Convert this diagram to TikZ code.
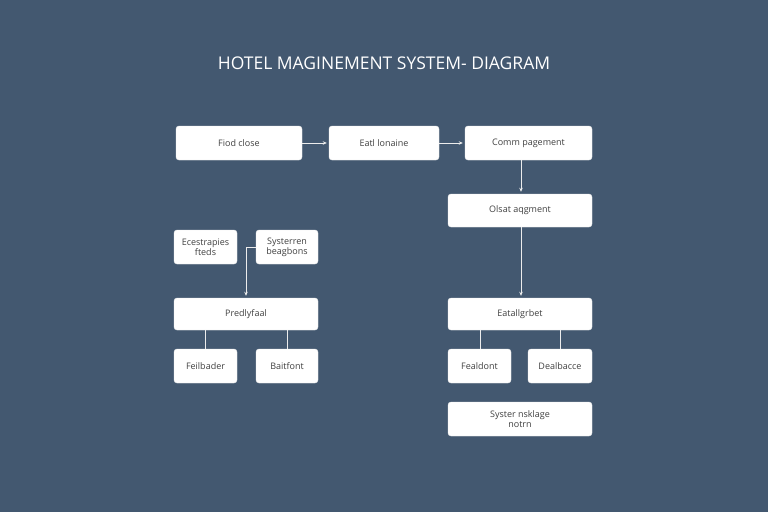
\documentclass[tikz,border=0pt]{standalone}
\usepackage{fontspec}
\setmainfont{Open Sans}
\usetikzlibrary{arrows.meta}
\definecolor{bg}{HTML}{435870}
\begin{document}
\begin{tikzpicture}[x=1pt,y=-1pt,
 box/.style={draw=white!85!gray,fill=white,rounded corners=3pt,inner sep=0pt,font=\fontsize{9}{10}\selectfont,text=black!75,align=center},
 arr/.style={draw=white!85!gray,line width=0.7pt,-{Stealth[length=4pt,width=3.5pt]},shorten >=2pt},
 ln/.style={draw=white!85!gray,line width=0.7pt}]
\fill[bg] (0,0) rectangle (768,512);
\node[text=white,font=\fontsize{17.5}{20}\selectfont] (t) at (384,63) {HOTEL MAGINEMENT SYSTEM- DIAGRAM};
\newcommand{\bx}[6]{\node[box,minimum width=#4-#2,minimum height=#5-#3] (#1) at ({(#2+#4)/2},{(#3+#5)/2}) {#6};}
\bx{a}{176}{126}{302}{160}{Fiod close}
\bx{b}{329}{126}{439}{160}{Eatl lonaine}
\bx{c}{465}{126}{592}{160}{Comm pagement}
\bx{d}{448}{194}{592}{227}{Olsat aqgment}
\bx{e}{174}{230}{237}{264}{Ecestrapies\\fteds}
\bx{f}{256}{230}{318}{264}{Systerren\\beagbons}
\bx{g}{174}{298}{318}{330}{Predlyfaal}
\bx{h}{174}{349}{237}{383}{Feilbader}
\bx{i}{256}{349}{318}{383}{Baitfont}
\bx{j}{448}{298}{592}{330}{Eatallgrbet}
\bx{k}{448}{349}{511}{383}{Fealdont}
\bx{l}{528}{349}{592}{383}{Dealbacce}
\bx{m}{448}{402}{592}{436}{Syster nsklage\\notrn}
\draw[arr] (a) -- (b);
\draw[arr] (b) -- (c);
\draw[arr] (c.south -| 521,0) -- (d.north -| 521,0);
\draw[arr] (d.south -| 521,0) -- (j.north -| 521,0);
\draw[arr] (f.west |- 0,247) -- (246,247) -- (g.north -| 246,0);
\draw[ln] (g.south -| 205,0) -- (h.north -| 205,0);
\draw[ln] (g.south -| 287,0) -- (i.north -| 287,0);
\draw[ln] (j.south -| 480,0) -- (k.north -| 480,0);
\draw[ln] (j.south -| 560,0) -- (l.north -| 560,0);
\end{tikzpicture}
\end{document}
